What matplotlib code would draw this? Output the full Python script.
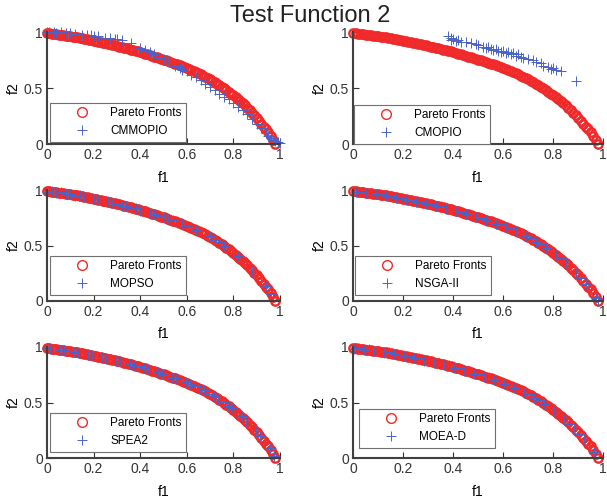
import numpy as np
import matplotlib.pyplot as plt

plt.rcParams['font.family'] = ['Liberation Sans', 'DejaVu Sans']

# true Pareto front
pf_f1 = [0.00, 0.01, 0.02, 0.03, 0.04, 0.05, 0.06, 0.07, 0.08, 0.09,
         0.10, 0.11, 0.12, 0.13, 0.14, 0.15, 0.16, 0.17, 0.18, 0.19,
         0.20, 0.21, 0.22, 0.23, 0.24, 0.25, 0.26, 0.27, 0.28, 0.29,
         0.30, 0.31, 0.32, 0.33, 0.34, 0.35, 0.36, 0.37, 0.38, 0.39,
         0.40, 0.41, 0.42, 0.43, 0.44, 0.45, 0.46, 0.47, 0.48, 0.49,
         0.50, 0.51, 0.52, 0.53, 0.54, 0.55, 0.56, 0.57, 0.58, 0.59,
         0.60, 0.61, 0.62, 0.63, 0.64, 0.65, 0.66, 0.67, 0.68, 0.69,
         0.70, 0.71, 0.72, 0.73, 0.74, 0.75, 0.76, 0.77, 0.78, 0.79,
         0.80, 0.81, 0.82, 0.83, 0.84, 0.85, 0.86, 0.87, 0.88, 0.89,
         0.90, 0.91, 0.92, 0.93, 0.94, 0.95, 0.96, 0.97, 0.98]
pf_f2 = [0.990, 0.987, 0.985, 0.982, 0.980, 0.977, 0.974, 0.971, 0.968, 0.965,
         0.962, 0.958, 0.954, 0.951, 0.947, 0.943, 0.939, 0.935, 0.930, 0.926,
         0.922, 0.917, 0.913, 0.908, 0.904, 0.899, 0.894, 0.889, 0.885, 0.880,
         0.875, 0.870, 0.865, 0.859, 0.854, 0.849, 0.843, 0.838, 0.832, 0.826,
         0.820, 0.814, 0.807, 0.801, 0.794, 0.788, 0.781, 0.774, 0.768, 0.761,
         0.754, 0.747, 0.740, 0.732, 0.725, 0.718, 0.710, 0.703, 0.695, 0.688,
         0.680, 0.671, 0.661, 0.652, 0.642, 0.633, 0.622, 0.611, 0.600, 0.589,
         0.578, 0.565, 0.552, 0.538, 0.525, 0.512, 0.497, 0.481, 0.466, 0.450,
         0.435, 0.417, 0.399, 0.381, 0.363, 0.345, 0.322, 0.300, 0.277, 0.255,
         0.232, 0.207, 0.181, 0.156, 0.130, 0.105, 0.070, 0.035, 0.000]

cmmopio_f1 = [0.00, 0.01, 0.03, 0.04, 0.06, 0.08, 0.10, 0.12, 0.15, 0.17,
              0.19, 0.20, 0.22, 0.25, 0.27, 0.29, 0.30, 0.32, 0.36, 0.40,
              0.42, 0.44, 0.46, 0.48, 0.50, 0.52, 0.55, 0.57, 0.58, 0.60,
              0.62, 0.64, 0.66, 0.68, 0.70, 0.72, 0.74, 0.76, 0.78, 0.80,
              0.82, 0.84, 0.86, 0.88, 0.90, 0.92, 0.94, 0.95, 0.96, 0.97,
              0.98, 0.99, 1.00]
cmmopio_f2 = [1.00, 1.00, 1.00, 0.995, 1.00, 0.995, 0.99, 0.985, 0.975, 0.97,
              0.97, 0.96, 0.96, 0.95, 0.945, 0.94, 0.935, 0.925, 0.90, 0.86,
              0.84, 0.82, 0.80, 0.77, 0.76, 0.74, 0.70, 0.68, 0.66, 0.65,
              0.62, 0.60, 0.57, 0.54, 0.51, 0.48, 0.45, 0.42, 0.40, 0.37,
              0.33, 0.30, 0.27, 0.22, 0.18, 0.14, 0.10, 0.07, 0.05, 0.04,
              0.03, 0.02, 0.01]

cmopio_f1 = [0.38, 0.39, 0.39, 0.40, 0.41, 0.42, 0.43, 0.45, 0.47, 0.49,
             0.50, 0.52, 0.53, 0.54, 0.55, 0.56, 0.57, 0.58, 0.59, 0.60,
             0.61, 0.62, 0.63, 0.64, 0.65, 0.66, 0.67, 0.68, 0.70, 0.72,
             0.73, 0.75, 0.76, 0.78, 0.79, 0.80, 0.81, 0.83, 0.89]
cmopio_f2 = [0.96, 0.95, 0.93, 0.94, 0.92, 0.93, 0.91, 0.91, 0.90, 0.89,
             0.88, 0.87, 0.86, 0.87, 0.85, 0.84, 0.85, 0.83, 0.82, 0.83,
             0.81, 0.82, 0.80, 0.81, 0.79, 0.80, 0.78, 0.77, 0.76, 0.75,
             0.73, 0.72, 0.70, 0.69, 0.67, 0.68, 0.66, 0.65, 0.56]

mopso_f1 = [0.00, 0.02, 0.04, 0.06, 0.08, 0.10, 0.12, 0.14, 0.16, 0.18,
            0.20, 0.22, 0.24, 0.26, 0.28, 0.30, 0.32, 0.34, 0.36, 0.38,
            0.40, 0.42, 0.44, 0.46, 0.48, 0.50, 0.52, 0.54, 0.56, 0.58,
            0.60, 0.62, 0.64, 0.66, 0.68, 0.70, 0.72, 0.74, 0.76, 0.78,
            0.80, 0.82, 0.84, 0.86, 0.88, 0.90, 0.92, 0.94, 0.96, 0.97]
mopso_f2 = [0.985, 0.988, 0.975, 0.978, 0.963, 0.966, 0.950, 0.951, 0.935, 0.934,
            0.918, 0.916, 0.900, 0.898, 0.880, 0.878, 0.860, 0.858, 0.838, 0.836,
            0.815, 0.811, 0.790, 0.784, 0.763, 0.757, 0.735, 0.728, 0.706, 0.699,
            0.675, 0.665, 0.638, 0.627, 0.596, 0.582, 0.548, 0.530, 0.493, 0.470,
            0.430, 0.404, 0.358, 0.327, 0.273, 0.236, 0.177, 0.134, 0.066, 0.040]

nsga_f1 = [0.01, 0.03, 0.05, 0.07, 0.09, 0.11, 0.13, 0.15, 0.17, 0.19,
           0.21, 0.23, 0.25, 0.27, 0.29, 0.31, 0.33, 0.35, 0.37, 0.39,
           0.41, 0.43, 0.45, 0.47, 0.49, 0.51, 0.53, 0.55, 0.57, 0.59,
           0.61, 0.63, 0.65, 0.67, 0.69, 0.71, 0.73, 0.75, 0.77, 0.79,
           0.81, 0.83, 0.85, 0.87, 0.89, 0.91, 0.93, 0.95, 0.97, 0.98]
nsga_f2 = [0.982, 0.986, 0.972, 0.975, 0.960, 0.962, 0.946, 0.947, 0.930, 0.930,
           0.912, 0.912, 0.894, 0.893, 0.875, 0.874, 0.854, 0.853, 0.833, 0.830,
           0.809, 0.805, 0.783, 0.778, 0.756, 0.751, 0.727, 0.722, 0.698, 0.692,
           0.666, 0.656, 0.628, 0.615, 0.584, 0.569, 0.533, 0.516, 0.476, 0.454,
           0.412, 0.385, 0.340, 0.304, 0.250, 0.211, 0.151, 0.109, 0.030, 0.004]

spea_f1 = [0.00, 0.015, 0.035, 0.055, 0.075, 0.095, 0.115, 0.135, 0.155, 0.175,
           0.195, 0.215, 0.235, 0.255, 0.275, 0.295, 0.315, 0.335, 0.355, 0.375,
           0.395, 0.415, 0.435, 0.455, 0.475, 0.495, 0.515, 0.535, 0.555, 0.575,
           0.595, 0.615, 0.635, 0.655, 0.675, 0.695, 0.715, 0.735, 0.755, 0.775,
           0.795, 0.815, 0.835, 0.855, 0.875, 0.895, 0.915, 0.935, 0.955, 0.975]
spea_f2 = [0.988, 0.983, 0.984, 0.973, 0.972, 0.961, 0.959, 0.946, 0.945, 0.930,
           0.928, 0.912, 0.910, 0.893, 0.891, 0.874, 0.872, 0.853, 0.850, 0.831,
           0.827, 0.808, 0.802, 0.782, 0.775, 0.755, 0.747, 0.725, 0.717, 0.696,
           0.688, 0.663, 0.651, 0.624, 0.609, 0.580, 0.562, 0.528, 0.508, 0.470,
           0.446, 0.404, 0.376, 0.330, 0.293, 0.241, 0.196, 0.139, 0.091, 0.014]

moead_f1 = [0.005, 0.025, 0.045, 0.065, 0.085, 0.105, 0.125, 0.145, 0.165, 0.185,
            0.205, 0.225, 0.245, 0.265, 0.285, 0.305, 0.325, 0.345, 0.365, 0.385,
            0.405, 0.425, 0.445, 0.465, 0.485, 0.505, 0.525, 0.545, 0.565, 0.585,
            0.605, 0.625, 0.645, 0.665, 0.685, 0.705, 0.725, 0.745, 0.765, 0.775,
            0.785, 0.805, 0.825, 0.845, 0.865, 0.885, 0.905, 0.925, 0.945, 0.965]
moead_f2 = [0.981, 0.989, 0.974, 0.980, 0.964, 0.966, 0.949, 0.953, 0.933, 0.932,
            0.915, 0.915, 0.898, 0.897, 0.877, 0.877, 0.857, 0.857, 0.836, 0.834,
            0.813, 0.808, 0.787, 0.781, 0.761, 0.754, 0.731, 0.726, 0.702, 0.695,
            0.671, 0.661, 0.633, 0.621, 0.590, 0.576, 0.541, 0.524, 0.486, 0.477,
            0.455, 0.422, 0.384, 0.352, 0.305, 0.264, 0.214, 0.169, 0.118, 0.055]

algos = [('CMMOPIO', cmmopio_f1, cmmopio_f2),
         ('CMOPIO', cmopio_f1, cmopio_f2),
         ('MOPSO', mopso_f1, mopso_f2),
         ('NSGA-II', nsga_f1, nsga_f2),
         ('SPEA2', spea_f1, spea_f2),
         ('MOEA-D', moead_f1, moead_f2)]

W, H = 607, 497
fig = plt.figure(figsize=(W / 100, H / 100), dpi=100)

# axes boxes in pixels: left, right / top, bottom
cols = [(47, 280), (353, 603)]
rows = [(32, 144), (190, 301), (347, 458)]
# lower-left corner of each legend box, pixels
leg_pos = [(50, 142), (354, 144), (50, 295), (355, 295), (50, 452), (359, 448)]

for k, (name, x, y) in enumerate(algos):
    c0, c1 = cols[k % 2]
    r0, r1 = rows[k // 2]
    ax = fig.add_axes([c0 / W, 1 - r1 / H, (c1 - c0) / W, (r1 - r0) / H])
    ax.plot(pf_f1, pf_f2, 'o', ls='none', mfc='none', mec='#f02a2a',
            ms=6, mew=1.7, clip_on=False, label='Pareto Fronts')
    ax.plot(x, y, '+', ls='none', color='#4a63c8', ms=7.5, mew=0.7,
            clip_on=False, label=name)
    ax.set_xlim(0, 1)
    ax.set_ylim(0, 1)
    ax.set_xticks([0, 0.2, 0.4, 0.6, 0.8, 1])
    ax.set_xticklabels(['0', '0.2', '0.4', '0.6', '0.8', '1'])
    ax.set_yticks([0, 0.5, 1])
    ax.set_yticklabels(['0', '0.5', '1'])
    for s in ['top', 'right']:
        ax.spines[s].set_visible(False)
    for s in ['left', 'bottom']:
        ax.spines[s].set_color('#404040')
        ax.spines[s].set_linewidth(1.5)
    ax.tick_params(direction='in', length=4, width=0.8, colors='#333333',
                   labelsize=10, pad=3)
    ax.set_xlabel('f1', fontsize=10, labelpad=6)
    ax.set_ylabel('f2', fontsize=10, labelpad=2)
    lx, ly = leg_pos[k]
    anchor = ((lx - c0) / (c1 - c0), (r1 - ly) / (r1 - r0))
    leg = ax.legend(loc='lower left', bbox_to_anchor=anchor, borderaxespad=0,
                    fontsize=8.5, frameon=True, fancybox=False,
                    handlelength=4.6, handletextpad=0.1, borderpad=0.4,
                    labelspacing=0.5, numpoints=1, framealpha=1)
    leg.get_frame().set_edgecolor('#707070')
    leg.get_frame().set_linewidth(0.8)
    # legend circle is drawn thinner than the dense front
    leg.legend_handles[0].set_markeredgewidth(1.0)
    leg.legend_handles[0].set_markersize(7)

fig.text(0.511, 0.968, 'Test Function 2', ha='center', va='center',
         fontsize=17, color='#222222')

plt.savefig('out.png', dpi=100)
